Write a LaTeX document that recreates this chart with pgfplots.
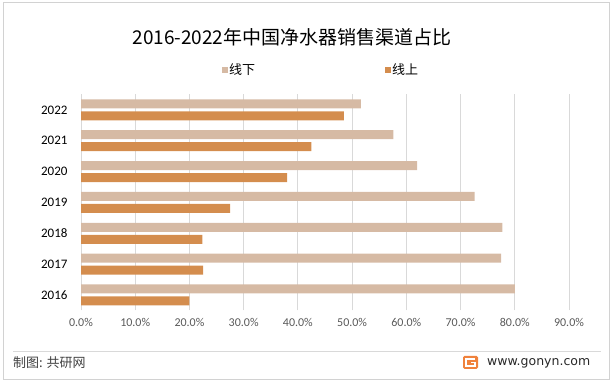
\documentclass[border=0pt]{standalone}
\usepackage{fontspec}
\setmainfont{Carlito}
\newfontfamily\cjk{Noto Sans CJK SC}
\newfontfamily\dejavu{DejaVu Sans}
\usepackage{pgfplots}
\pgfplotsset{compat=1.18}
\definecolor{offc}{RGB}{214,186,164}
\definecolor{onc}{RGB}{212,141,78}
\definecolor{gridc}{RGB}{217,217,217}
\definecolor{tickc}{RGB}{89,89,89}
\definecolor{framec}{RGB}{210,210,210}
\begin{document}
\begin{tikzpicture}[x=1pt,y=1pt]
\useasboundingbox (0,0) rectangle (614,385);
\draw[framec,line width=1pt] (3,5) rectangle (609,382);
\node[font=\cjk\fontsize{19}{22}\selectfont,text=black] at (292,348) {2016-2022年中国净水器销售渠道占比};
\begin{axis}[
  at={(81pt,74.6pt)}, anchor=south west,
  scale only axis, width=488pt, height=216pt,
  xmin=0, xmax=90, ymin=-0.5, ymax=6.5,
  xbar, bar width=9pt,
  axis line style={draw=none},
  major tick length=0pt,
  xtick={0,10,...,90},
  xmajorgrids, grid style={gridc,line width=0.8pt},
  ytick={0,1,2,3,4,5,6},
  yticklabels={2016,2017,2018,2019,2020,2021,2022},
  xticklabel={\pgfmathprintnumber[fixed,fixed zerofill,precision=1]{\tick}\%},
  /pgf/number format/assume math mode=true,
  xticklabel style={font=\fontsize{12}{14}\selectfont,text=tickc,yshift=-4pt},
  yticklabel style={font=\fontsize{13}{15}\selectfont,text=black,xshift=-10pt},
  legend columns=2,
  legend style={at={(0.288,1.113)},anchor=west,draw=none,fill=none,inner sep=0pt,
    font=\cjk\fontsize{13}{15}\selectfont,
    nodes={inner sep=1.5pt},
    /tikz/every even column/.append style={column sep=128pt}},
  legend image code/.code={\fill[#1,draw=none] (0pt,-3pt) rectangle (6pt,3pt);},
]
\addplot[fill=offc,draw=none,bar shift=6pt] coordinates {
 (80.0,0) (77.5,1) (77.7,2) (72.6,3) (62.0,4) (57.6,5) (51.6,6)};
\addlegendentry{线下}
\addplot[fill=onc,draw=none,bar shift=-6pt] coordinates {
 (20.0,0) (22.5,1) (22.4,2) (27.5,3) (38.0,4) (42.5,5) (48.5,6)};
\addlegendentry{线上}
\end{axis}
\draw[gridc,line width=0.8pt] (13,34) -- (601,34);
\node[anchor=west,font=\cjk\fontsize{13}{15}\selectfont,text={rgb,255:red,64;green,64;blue,64},inner sep=0pt] at (13,22) {制图: 共研网};
\fill[rounded corners=1.5pt,color={rgb,255:red,240;green,130;blue,60}] (463,16) rectangle (478,29);
\draw[white,line width=1.5pt] (475,26) -- (466,26) -- (466,19) -- (475,19) -- (475,22.5) -- (471,22.5);
\node[anchor=west,font=\dejavu\fontsize{12.5}{15}\selectfont,text={rgb,255:red,40;green,40;blue,40},inner sep=0pt] at (487,22) {www.gonyn.com};
\end{tikzpicture}
\end{document}
